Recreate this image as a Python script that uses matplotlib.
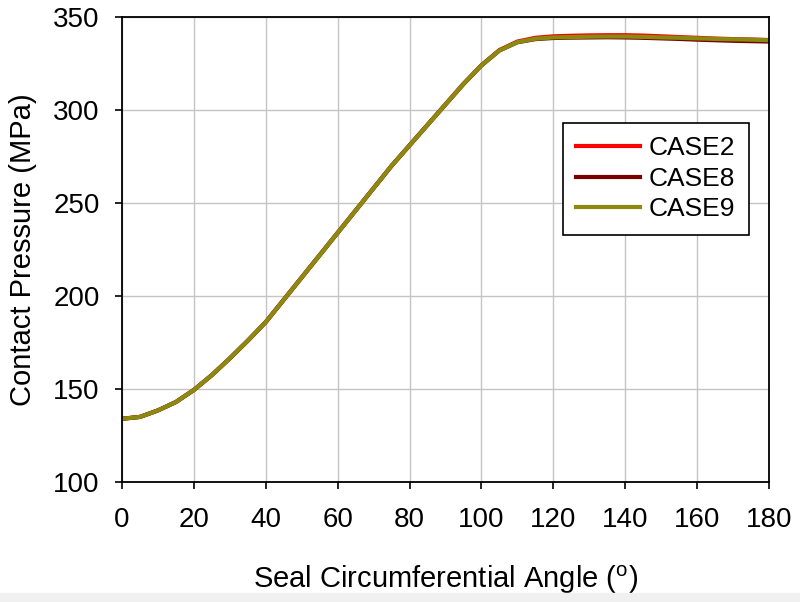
import matplotlib
matplotlib.use("Agg")
import matplotlib.pyplot as plt
from matplotlib.patches import Rectangle

plt.rcParams['font.family'] = ['Liberation Sans', 'DejaVu Sans']
plt.rcParams['mathtext.fontset'] = 'custom'
plt.rcParams['mathtext.rm'] = 'Liberation Sans'

# angles (deg) and contact pressure (MPa)
angle = [0, 5, 10, 15, 20, 25, 30, 35, 40, 45, 50, 55, 60, 65, 70, 75, 80, 85, 90,
         95, 100, 105, 110, 115, 120, 125, 130, 135, 140, 145, 150, 155, 160, 165,
         170, 175, 180]
case2 = [134, 135, 138.5, 143, 149.5, 157.5, 166.5, 176, 186, 198, 210, 222, 234,
         246, 258, 270, 281, 292, 303, 314, 324, 332.2, 336.8, 338.8, 339.6, 339.9,
         340.1, 340.2, 340.2, 340.0, 339.6, 339.2, 338.8, 338.4, 338.1, 337.9, 337.6]
case8 = [134, 135, 138.5, 143, 149.5, 157.5, 166.5, 176, 186, 198, 210, 222, 234,
         246, 258, 270, 281, 292, 303, 314, 324, 332, 336.4, 338.1, 338.7, 338.9,
         339.0, 339.1, 339.0, 338.8, 338.5, 338.2, 337.8, 337.5, 337.2, 337.0, 336.8]
case9 = [134, 135, 138.5, 143, 149.5, 157.5, 166.5, 176, 186, 198, 210, 222, 234,
         246, 258, 270, 281, 292, 303, 314, 324, 332, 336.5, 338.3, 339, 339.2,
         339.4, 339.5, 339.5, 339.3, 339, 338.8, 338.5, 338.2, 338, 337.8, 337.5]

fig = plt.figure(figsize=(8, 6.02), dpi=100)
# thin grey strip along the bottom edge, as in the scan
fig.patches.append(Rectangle((0, 0), 1, 9 / 602, transform=fig.transFigure,
                             color='#f0f0f0', zorder=0))
ax = fig.add_axes([0.1525, 0.1993, 0.8088, 0.7725])

ax.plot(angle, case2, color='#ff0000', lw=3, label='CASE2')
ax.plot(angle, case8, color='#7a0000', lw=3, label='CASE8')
ax.plot(angle, case9, color='#8a8a10', lw=3, label='CASE9')

ax.set_xlim(0, 180)
ax.set_ylim(100, 350)
ax.set_xticks(range(0, 181, 20))
ax.set_yticks(range(100, 351, 50))
ax.grid(True, color='#c4c4c4', lw=1)
ax.set_axisbelow(True)
for sp in ax.spines.values():
    sp.set_linewidth(1.3)
ax.tick_params(direction='out', length=5, width=1.2, labelsize=20)
ax.tick_params(axis='x', pad=13)
ax.tick_params(axis='y', pad=11)

ax.set_xlabel(r'Seal Circumferential Angle ($^{\mathrm{o}}$)', fontsize=21, labelpad=22)
ax.set_ylabel('Contact Pressure (MPa)', fontsize=21, labelpad=12)

leg = ax.legend(loc='upper left', bbox_to_anchor=(0.682, 0.772), fontsize=19,
                frameon=True, fancybox=False, edgecolor='black', framealpha=1,
                borderaxespad=0, handlelength=2.4, borderpad=0.5,
                labelspacing=0.25, handletextpad=0.35)
leg.get_frame().set_linewidth(1.2)

fig.savefig('out.png', dpi=100)
